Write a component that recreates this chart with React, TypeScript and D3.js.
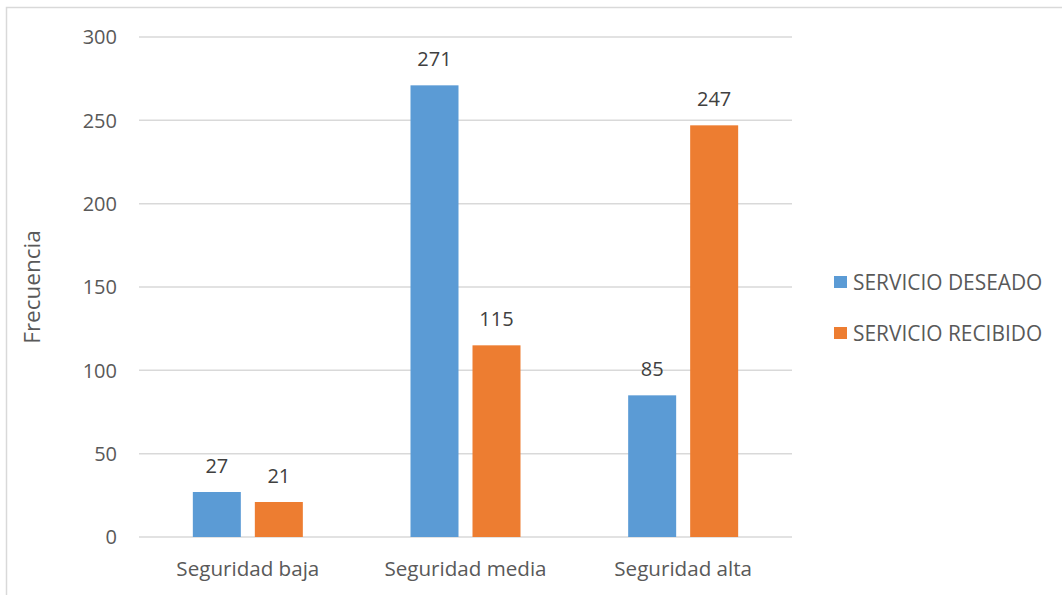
import React from "react";
import * as d3 from "d3";

const categories = ["Seguridad baja", "Seguridad media", "Seguridad alta"];
const seriesNames = ["SERVICIO DESEADO", "SERVICIO RECIBIDO"];
const deseado = [27, 271, 85];
const recibido = [21, 115, 247];
const yTicks = [0, 50, 100, 150, 200, 250, 300];
const colors = ["#5B9BD5", "#ED7D31"];

const W = 1062;
const H = 595;
const plot = { left: 139, right: 792, top: 37, bottom: 537 };
const font = "'Open Sans', sans-serif";
const textColor = "#595959";

export default function App() {
  const x = d3.scaleBand<string>().domain(categories).range([plot.left, plot.right]);
  const y = d3.scaleLinear().domain([0, 300]).range([plot.bottom, plot.top]);
  const barW = 48;
  const gap = 14;
  const series = [deseado, recibido];

  return (
    <svg
      width={W}
      height={H}
      style={{ position: "absolute", left: 0, top: 0, background: "#fff" }}
      fontFamily={font}
    >
      <rect x={6.5} y={7.5} width={W + 10} height={H + 10} fill="#fff" stroke="#d9d9d9" strokeWidth={1.5} />
      {yTicks.map((t) => (
        <g key={t}>
          <line x1={plot.left} x2={plot.right} y1={y(t)} y2={y(t)} stroke="#d9d9d9" strokeWidth={1.5} />
          <text x={117} y={y(t)} dy="0.36em" textAnchor="end" fontSize={20} fill={textColor}>
            {t}
          </text>
        </g>
      ))}
      {categories.map((c, i) => {
        const cx = (x(c) as number) + x.bandwidth() / 2;
        return (
          <g key={c}>
            {series.map((vals, s) => {
              const bx = s === 0 ? cx - gap / 2 - barW : cx + gap / 2;
              const v = vals[i];
              return (
                <g key={s}>
                  <rect x={bx} y={y(v)} width={barW} height={y(0) - y(v)} fill={colors[s]} />
                  <text x={bx + barW / 2} y={y(v) - 19} textAnchor="middle" fontSize={20} fill="#404040">
                    {v}
                  </text>
                </g>
              );
            })}
            <text x={cx} y={576} textAnchor="middle" fontSize={20.6} fill={textColor}>
              {c}
            </text>
          </g>
        );
      })}
      <text
        transform={`translate(40,${(plot.top + plot.bottom) / 2}) rotate(-90)`}
        textAnchor="middle"
        fontSize={22.5}
        fill={textColor}
      >
        Frecuencia
      </text>
      {seriesNames.map((n, s) => (
        <g key={n} transform={`translate(834,${282 + s * 51})`}>
          <rect x={0} y={-6} width={13} height={12} fill={colors[s]} />
          <text x={19} y={0} dy="0.36em" fontSize={20.9} fill={textColor}>
            {n}
          </text>
        </g>
      ))}
    </svg>
  );
}
